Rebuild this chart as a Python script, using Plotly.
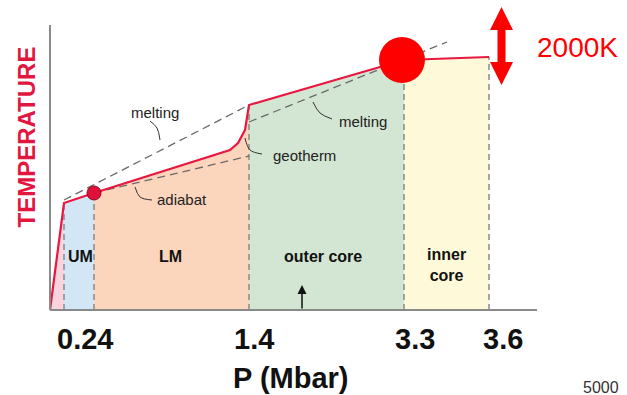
import plotly.graph_objects as go

# ---- data (schematic units: x = position along P axis, T = temperature height) ----
boundary_x = [0, 14, 44, 199, 354, 439]
region_colors = ["#f9d4df", "#d3e6f6", "#fcd5bd", "#d3e5d3", "#fefad9"]
region_names = ["UM", "LM", "outer core", "inner<br>core"]
region_label_x = [30, 120, 273, 396]
region_label_T = [54, 54, 54, 45]

geo_x = [0, 14, 44, 180, 188, 195, 199, 354, 439]
geo_T = [0, 107, 117, 160, 167, 180, 205, 250, 253]

melt1_x = [14, 199]
melt1_T = [110, 205]
melt2_x = [199, 397]
melt2_T = [188, 268]
adiabat_x = [44, 199]
adiabat_T = [117, 154]

tick_x = [35, 204, 365, 453]
tick_labels = ["0.24", "1.4", "3.3", "3.6"]

labels = ["melting", "geotherm", "melting", "adiabat"]
label_x = [105, 254, 313, 132]
label_T = [198, 155, 189, 111]
leaders = [
    ([100, 107, 110], [189, 182, 170]),
    ([195, 200, 212], [172, 160, 156]),
    ([263, 270, 282], [208, 197, 191]),
    ([85, 90, 102], [123, 113, 110]),
]

dot_small = (44, 117)
dot_big = (352, 250)

arrow_x = 451.5
arrow_top, arrow_bot = 303, 225
arrow_head, arrow_half, shaft_half = 23, 11.5, 4

FONT = "Liberation Sans, Arial, sans-serif"
fig = go.Figure()


def geo_at(x):
    for i in range(len(geo_x) - 1):
        if geo_x[i] <= x <= geo_x[i + 1]:
            x0, x1 = geo_x[i], geo_x[i + 1]
            t0, t1 = geo_T[i], geo_T[i + 1]
            return t0 + (t1 - t0) * (x - x0) / (x1 - x0)
    return geo_T[-1]


# region fills
for i, col in enumerate(region_colors):
    a, b = boundary_x[i], boundary_x[i + 1]
    xs = [x for x in geo_x if a <= x <= b]
    ts = [geo_T[geo_x.index(x)] for x in xs]
    px = xs + [b, a, a]
    pt = ts + [0, 0, ts[0]]
    fig.add_trace(go.Scatter(x=px, y=pt, fill="toself", fillcolor=col, mode="none",
                             hoverinfo="skip", showlegend=False))

# vertical dashed boundaries
for x in boundary_x[1:]:
    fig.add_trace(go.Scatter(x=[x, x], y=[0, geo_at(x)], mode="lines",
                             line=dict(color="#8a8a8a", width=1.5, dash="6px,4px"),
                             hoverinfo="skip", showlegend=False))

# dashed melting / adiabat lines
for xs, ts in [(melt1_x, melt1_T), (melt2_x, melt2_T), (adiabat_x, adiabat_T)]:
    fig.add_trace(go.Scatter(x=xs, y=ts, mode="lines",
                             line=dict(color="#6a6a6a", width=1.3, dash="8px,5px"),
                             hoverinfo="skip", showlegend=False))

# leader curves
for xs, ts in leaders:
    fig.add_trace(go.Scatter(x=xs, y=ts, mode="lines", line=dict(color="#333333", width=1, shape="spline"),
                             hoverinfo="skip", showlegend=False))

# geotherm
fig.add_trace(go.Scatter(x=geo_x, y=geo_T, mode="lines", line=dict(color="#e8173f", width=2.2),
                         hoverinfo="skip", showlegend=False))

# dots
fig.add_trace(go.Scatter(x=[dot_small[0]], y=[dot_small[1]], mode="markers",
                         marker=dict(size=14, color="#e0103a", line=dict(color="#8b0a1e", width=1)),
                         hoverinfo="skip", showlegend=False))
fig.add_trace(go.Scatter(x=[dot_big[0]], y=[dot_big[1]], mode="markers",
                         marker=dict(size=46, color="#ff0000", line=dict(width=0)),
                         hoverinfo="skip", showlegend=False))

# red double arrow
ax_ = [arrow_x, arrow_x + arrow_half, arrow_x + shaft_half, arrow_x + shaft_half, arrow_x + arrow_half,
       arrow_x, arrow_x - arrow_half, arrow_x - shaft_half, arrow_x - shaft_half, arrow_x - arrow_half, arrow_x]
at_ = [arrow_top, arrow_top - arrow_head, arrow_top - arrow_head, arrow_bot + arrow_head, arrow_bot + arrow_head,
       arrow_bot, arrow_bot + arrow_head, arrow_bot + arrow_head, arrow_top - arrow_head, arrow_top - arrow_head, arrow_top]
fig.add_trace(go.Scatter(x=ax_, y=at_, fill="toself", fillcolor="#ff0000", mode="none",
                         hoverinfo="skip", showlegend=False))

# axes lines
fig.add_shape(type="line", x0=0, x1=0, y0=0, y1=285, line=dict(color="#8a8a8a", width=2))
fig.add_shape(type="line", x0=0, x1=487, y0=0, y1=0, line=dict(color="#8a8a8a", width=2))

# small black arrow
fig.add_annotation(x=252, y=25, ax=252, ay=0, axref="x", ayref="y", xref="x", yref="y",
                   text="", showarrow=True, arrowhead=2, arrowsize=1.2, arrowwidth=1.5, arrowcolor="#111111")

# region labels
for name, x, t in zip(region_names, region_label_x, region_label_T):
    fig.add_annotation(x=x, y=t, text="<b>%s</b>" % name, showarrow=False,
                       font=dict(family=FONT, size=16, color="#111111"))

# curve labels
for name, x, t in zip(labels, label_x, label_T):
    fig.add_annotation(x=x, y=t, text=name, showarrow=False,
                       font=dict(family=FONT, size=15, color="#222222"))

# tick labels
for lab, x in zip(tick_labels, tick_x):
    fig.add_annotation(x=x, y=-29, text="<b>%s</b>" % lab, showarrow=False,
                       font=dict(family=FONT, size=29, color="#111111"))

fig.add_annotation(x=240, y=-68, text="<b>P (Mbar)</b>", showarrow=False,
                   font=dict(family=FONT, size=29, color="#111111"))
fig.add_annotation(x=-24.5, y=173, text="<b>TEMPERATURE</b>", showarrow=False, textangle=-90,
                   font=dict(family=FONT, size=24, color="#e2173f"))
fig.add_annotation(x=527, y=263, text="2000K", showarrow=False,
                   font=dict(family=FONT, size=28, color="#ff0000"))
fig.add_annotation(x=551, y=-77, text="5000", showarrow=False,
                   font=dict(family=FONT, size=16, color="#333333"))

fig.update_layout(
    width=627, height=395,
    margin=dict(l=0, r=0, t=0, b=0),
    paper_bgcolor="white", plot_bgcolor="white",
    xaxis=dict(range=[-50, 577], visible=False, fixedrange=True),
    yaxis=dict(range=[-85, 310], visible=False, fixedrange=True),
    showlegend=False,
)

fig.write_html("out.html", config={"displayModeBar": False},
               post_script="document.body.style.margin='0';document.body.style.overflow='hidden';")
